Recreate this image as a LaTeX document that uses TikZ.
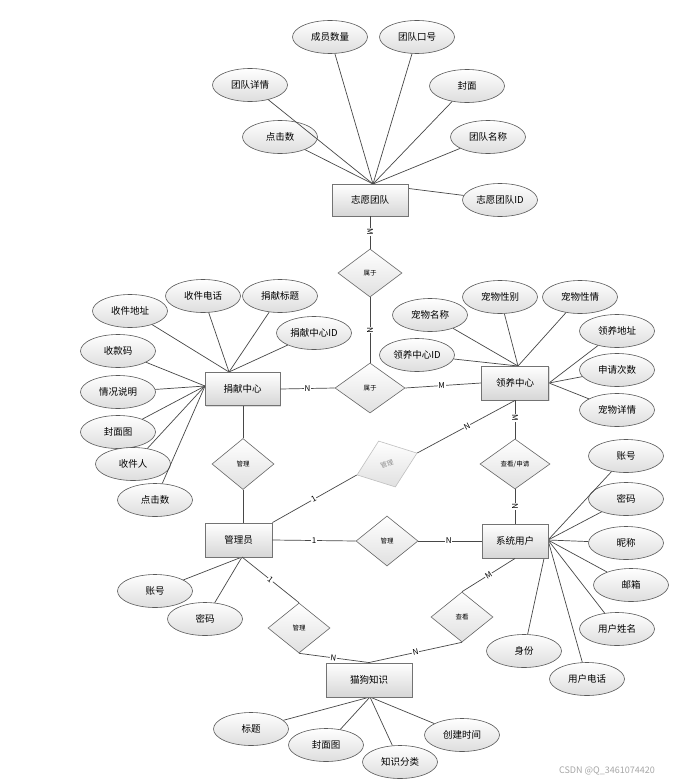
\documentclass[tikz,border=0pt]{standalone}
\usepackage{fontspec}
\setmainfont{Noto Sans CJK SC}
\usetikzlibrary{shapes.geometric,shadows}
\begin{document}
\begin{tikzpicture}[x=1pt,y=-1pt,
  ent/.style={draw=black!55, line width=0.9pt, rectangle, top color=white, bottom color=black!16,
    minimum width=75pt, minimum height=33pt, inner sep=1pt, font=\fontsize{9.5}{11}\selectfont,
    drop shadow={shadow xshift=1.3pt, shadow yshift=-1.3pt, fill=black!25}},
  attr/.style={draw=black!65, line width=0.6pt, ellipse, top color=white, bottom color=black!13,
    minimum width=75pt, minimum height=33pt, inner sep=0pt, font=\fontsize{9.5}{11}\selectfont},
  rel/.style={draw=black!60, line width=0.6pt, diamond, top color=white, bottom color=black!12,
    minimum width=62pt, minimum height=50pt, inner sep=0pt, font=\fontsize{6.5}{8}\selectfont},
  conn/.style={draw=black!72, line width=0.7pt},
  lab/.style={fill=white, inner sep=0.6pt, font=\fontsize{8}{9}\selectfont}
]
\useasboundingbox (0,0) rectangle (672,784);
\fill[white] (0,0) rectangle (672,784);

% convergence points
\coordinate (tz) at (373,184);
\coordinate (jt) at (229,372);
\coordinate (jl) at (205,386);
\coordinate (lt) at (518,366);
\coordinate (lr) at (549,383);
\coordinate (xr) at (548,540);
\coordinate (gs) at (242,557);
\coordinate (mt) at (370,697);

% attributes of 志愿团队
\node[attr] (z1) at (330,37) {成员数量};
\node[attr] (z2) at (417,37) {团队口号};
\node[attr] (z3) at (250,85) {团队详情};
\node[attr] (z4) at (467,86) {封面};
\node[attr] (z5) at (280,137) {点击数};
\node[attr] (z6) at (488,137) {团队名称};
\node[attr] (z7) at (500,200) {志愿团队ID};
\foreach \a in {z1,z2,z3,z4,z5,z6,z7} \draw[conn] (\a) -- (tz);

% attributes of 捐献中心
\node[attr] (j1) at (130,311) {收件地址};
\node[attr] (j2) at (203,296) {收件电话};
\node[attr] (j3) at (280,296) {捐献标题};
\node[attr] (j4) at (314,333) {捐献中心ID};
\node[attr] (j5) at (118,351) {收款码};
\node[attr] (j6) at (118,392) {情况说明};
\node[attr] (j7) at (118,432) {封面图};
\node[attr] (j8) at (133,464) {收件人};
\node[attr] (j9) at (155,500) {点击数};
\foreach \a in {j1,j2,j3,j4} \draw[conn] (\a) -- (jt);
\foreach \a in {j5,j6,j7,j8,j9} \draw[conn] (\a) -- (jl);

% attributes of 领养中心
\node[attr] (l1) at (430,315) {宠物名称};
\node[attr] (l2) at (500,297) {宠物性别};
\node[attr] (l3) at (580,297) {宠物性情};
\node[attr] (l4) at (417,355) {领养中心ID};
\node[attr] (l5) at (617,331) {领养地址};
\node[attr] (l6) at (617,370) {申请次数};
\node[attr] (l7) at (617,410) {宠物详情};
\foreach \a in {l1,l2,l3,l4} \draw[conn] (\a) -- (lt);
\foreach \a in {l5,l6,l7} \draw[conn] (\a) -- (lr);

% attributes of 系统用户
\node[attr] (x1) at (626,456) {账号};
\node[attr] (x2) at (626,499) {密码};
\node[attr] (x3) at (626,543) {昵称};
\node[attr] (x4) at (631,585) {邮箱};
\node[attr] (x5) at (617,629) {用户姓名};
\node[attr] (x6) at (587,679) {用户电话};
\node[attr] (x7) at (524,651) {身份};
\foreach \a in {x1,x2,x3,x4,x5,x6,x7} \draw[conn] (\a) -- (xr);

% attributes of 管理员
\node[attr] (g1) at (155,591) {账号};
\node[attr] (g2) at (205,619) {密码};
\foreach \a in {g1,g2} \draw[conn] (\a) -- (gs);

% attributes of 猫狗知识
\node[attr] (m1) at (251,729) {标题};
\node[attr] (m2) at (326,745) {封面图};
\node[attr] (m3) at (400,762) {知识分类};
\node[attr] (m4) at (462,735) {创建时间};
\foreach \a in {m1,m2,m3,m4} \draw[conn] (\a) -- (mt);

% entities
\node[ent, minimum width=76pt, minimum height=32pt] (zy) at (370,200) {志愿团队};
\node[ent] (jx) at (242.5,389) {捐献中心};
\node[ent, minimum width=67pt, minimum height=34pt] (ly) at (515,383) {领养中心};
\node[ent, minimum width=67pt, minimum height=34pt] (gly) at (238.5,540) {管理员};
\node[ent, minimum width=66pt, minimum height=34pt] (xt) at (515,541) {系统用户};
\node[ent, minimum width=86pt, minimum height=34pt] (mg) at (369,680) {猫狗知识};

% relationships
\node[rel, minimum width=64pt, minimum height=48pt] (r1) at (370,273) {属于};
\node[rel, minimum width=70pt] (r2) at (370,388) {属于};
\node[rel, minimum height=51pt] (r3) at (243,464) {管理};
\node[rel, draw=black!25, text=black!45, rotate=20, minimum width=64pt, minimum height=49pt] (r4) at (387,464) {管理};
\node[rel] (r5) at (387,541) {管理};
\node[rel, minimum width=70pt] (r6) at (515,464) {查看/申请};
\node[rel] (r7) at (299,628) {管理};
\node[rel] (r8) at (462,617) {查看};

% connectors
\draw[conn] (zy.south) -- node[lab, pos=0.48, rotate=-90] {M} (r1.north);
\draw[conn] (r1.south) -- node[lab, pos=0.5, rotate=-90] {N} (r2.north);
\draw[conn] (jx.east) -- node[lab, pos=0.5] {N} (r2.west);
\draw[conn] (r2.east) -- node[lab, pos=0.48] {M} (ly.west);
\draw[conn] (ly.south) -- node[lab, pos=0.46, rotate=-90] {M} (r6.north);
\draw[conn] (r6.south) -- node[lab, pos=0.5, rotate=-90] {N} (xt.north);
\draw[conn] (r3.north) -- (r3.north |- jx.south);
\draw[conn] (r3.south) -- (r3.south |- gly.north);
\draw[conn] (gly.east) -- node[lab, pos=0.5] {1} (r5.west);
\draw[conn] (r5.east) -- node[lab, pos=0.48] {N} (xt.west);
\draw[conn] (gly.north east) -- node[lab, pos=0.49, sloped] {1} (r4.west);
\draw[conn] (r4.east) -- node[lab, pos=0.51, sloped] {N} (ly.south);
\draw[conn] (gs) -- node[lab, pos=0.5, sloped] {1} (r7.north);
\draw[conn] (r7.south) -- node[lab, pos=0.49, sloped] {N} (mg.north);
\draw[conn] (xt.south) -- node[lab, pos=0.5, sloped] {M} (r8.north);
\draw[conn] (r8.south) -- node[lab, pos=0.5, sloped] {N} (mg.north);

% watermark
\node[text=black!35, font=\fontsize{9}{10}\selectfont, anchor=east, inner sep=0pt] (wm) at (655,771) {CSDN @Q\_3461074420};
\end{tikzpicture}
\end{document}
